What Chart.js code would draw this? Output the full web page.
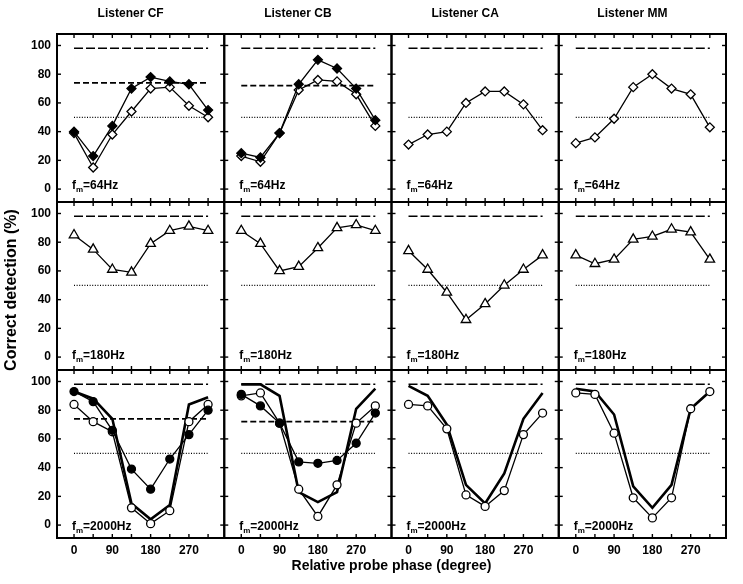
<!DOCTYPE html>
<html lang="en">
<head>
  <meta charset="UTF-8" />
  <title>Correct detection vs relative probe phase</title>
  <script src="https://cdn.jsdelivr.net/npm/chart.js"></script>
  <style>
    body { margin: 0; background: #fff; }
    #wrap { width: 743px; height: 584px; }
  </style>
</head>
<body>
  <div id="wrap"><canvas id="detChart" width="743" height="584"></canvas></div>

  <script>
    // categories / ticks
    const phases = [0, 45, 90, 135, 180, 225, 270, 315];
    const phaseLabels = [0, 90, 180, 270];
    const pctTicks = [0, 20, 40, 60, 80, 100];
    const listeners = ['CF', 'CB', 'CA', 'MM'];
    const modRates = ['64Hz', '180Hz', '2000Hz'];

    // fm = 64 Hz (diamonds)
    const cf64Filled = [40, 23, 44, 70, 78, 75, 73, 55];
    const cf64Open   = [39, 15, 38, 54, 70, 71, 58, 50];
    const cb64Filled = [25, 22, 39, 73, 90, 84, 70, 48];
    const cb64Open   = [23, 19, 39, 69, 76, 75, 66, 44];
    const ca64Open   = [31, 38, 40, 60, 68, 68, 59, 41];
    const mm64Open   = [32, 36, 49, 71, 80, 70, 66, 43];

    // fm = 180 Hz (triangles)
    const cf180 = [85, 75, 61, 59, 79, 88, 91, 88];
    const cb180 = [88, 79, 60, 63, 76, 90, 92, 88];
    const ca180 = [74, 61, 45, 26, 37, 50, 61, 71];
    const mm180 = [71, 65, 68, 82, 84, 89, 87, 68];

    // fm = 2000 Hz (circles + thick line)
    const cf2000Filled = [93, 86, 66, 39, 25, 46, 63, 80];
    const cf2000Open   = [84, 72, 65, 12, 1, 10, 72, 84];
    const cf2000Model  = [93, 88, 74, 15, 4, 14, 84, 89];
    const cb2000Filled = [91, 83, 71, 44, 43, 45, 57, 78];
    const cb2000Open   = [90, 92, 71, 25, 6, 28, 71, 83];
    const cb2000Model  = [98, 98, 90, 23, 16, 23, 81, 95];
    const ca2000Open   = [84, 83, 67, 21, 13, 24, 63, 78];
    const ca2000Model  = [97, 90, 70, 28, 15, 36, 74, 92];
    const mm2000Open   = [92, 91, 64, 19, 5, 19, 81, 93];
    const mm2000Model  = [95, 93, 77, 27, 12, 28, 81, 93];

    // reference levels
    const ceilingLevel = 98;
    const chanceLevel = 50;
    const criterionLevels = [74, 72, null, null];  // per listener
    const criterionRows = [0, 2];

    // [row, col, values, style]
    const panelSeries = [
      [0, 0, cf64Filled, 'diamondFilled'], [0, 0, cf64Open, 'diamondOpen'],
      [0, 1, cb64Filled, 'diamondFilled'], [0, 1, cb64Open, 'diamondOpen'],
      [0, 2, ca64Open, 'diamondOpen'],
      [0, 3, mm64Open, 'diamondOpen'],
      [1, 0, cf180, 'triangle'], [1, 1, cb180, 'triangle'],
      [1, 2, ca180, 'triangle'], [1, 3, mm180, 'triangle'],
      [2, 0, cf2000Filled, 'circleFilled'], [2, 0, cf2000Open, 'circleOpen'], [2, 0, cf2000Model, 'model'],
      [2, 1, cb2000Filled, 'circleFilled'], [2, 1, cb2000Open, 'circleOpen'], [2, 1, cb2000Model, 'model'],
      [2, 2, ca2000Open, 'circleOpen'], [2, 2, ca2000Model, 'model'],
      [2, 3, mm2000Open, 'circleOpen'], [2, 3, mm2000Model, 'model']
    ];

    const styles = {
      diamondFilled: { pointStyle: 'rectRot', pointRadius: 4.5, pointBackgroundColor: '#000', borderWidth: 1.3 },
      diamondOpen:   { pointStyle: 'rectRot', pointRadius: 4.5, pointBackgroundColor: '#fff', borderWidth: 1.3 },
      triangle:      { pointStyle: 'triangle', pointRadius: 5.5, pointBackgroundColor: '#fff', borderWidth: 1.3 },
      circleFilled:  { pointStyle: 'circle', pointRadius: 4, pointBackgroundColor: '#000', borderWidth: 1.3 },
      circleOpen:    { pointStyle: 'circle', pointRadius: 4, pointBackgroundColor: '#fff', borderWidth: 1.3 },
      model:         { pointRadius: 0, borderWidth: 2.6 }
    };

    const datasets = [];
    panelSeries.forEach(([row, col, values, style]) => {
      datasets.push(Object.assign({
        xAxisID: 'x' + col,
        yAxisID: 'y' + row,
        data: phases.map((p, i) => ({ x: p, y: values[i] })),
        borderColor: '#000',
        pointBorderColor: '#000',
        pointBorderWidth: 1.3,
        tension: 0
      }, styles[style]));
    });

    // horizontal reference lines
    function refLine(row, col, level, dash, width) {
      datasets.push({
        xAxisID: 'x' + col,
        yAxisID: 'y' + row,
        data: [{ x: phases[0], y: level }, { x: phases[phases.length - 1], y: level }],
        borderColor: '#000',
        borderWidth: width,
        borderDash: dash,
        pointRadius: 0
      });
    }
    for (let r = 0; r < modRates.length; r++) {
      for (let c = 0; c < listeners.length; c++) {
        refLine(r, c, ceilingLevel, [9, 3], 1.5);
        refLine(r, c, chanceLevel, [1, 1.6], 1.2);
        if (criterionRows.includes(r) && criterionLevels[c] !== null) {
          refLine(r, c, criterionLevels[c], [6, 3], 1.8);
        }
      }
    }

    // scales: x stacked along the bottom, y stacked along the left
    const scales = {};
    listeners.forEach((name, c) => {
      scales['x' + c] = {
        type: 'linear',
        position: 'bottom',
        stack: 'phase',
        min: -40,
        max: 353,
        grid: { display: false, drawTicks: false },
        border: { display: false },
        afterBuildTicks: axis => { axis.ticks = phases.map(v => ({ value: v })); },
        afterFit: axis => { axis.height = 20; },
        ticks: {
          autoSkip: false,
          maxRotation: 0,
          padding: 5,
          font: { size: 12, weight: 'bold' },
          callback: v => phaseLabels.includes(v) ? String(v) : ''
        }
      };
    });
    // left stack is laid out from highest index down, so add bottom row first
    for (let r = modRates.length - 1; r >= 0; r--) {
      scales['y' + r] = {
        type: 'linear',
        position: 'left',
        stack: 'pct',
        min: -9,
        max: 108,
        grid: { display: false, drawTicks: false },
        border: { display: false },
        afterBuildTicks: axis => { axis.ticks = pctTicks.map(v => ({ value: v })); },
        afterFit: axis => { axis.width = 30; },
        ticks: { padding: 6, font: { size: 12, weight: 'bold' } }
      };
    }

    function tick(ctx, x1, y1, x2, y2) {
      ctx.beginPath();
      ctx.moveTo(x1, y1);
      ctx.lineTo(x2, y2);
      ctx.stroke();
    }

    const framePlugin = {
      id: 'panelFrames',
      afterDraw(chart) {
        const ctx = chart.ctx;
        ctx.save();
        ctx.strokeStyle = '#000';
        ctx.fillStyle = '#000';
        listeners.forEach((name, c) => {
          const xs = chart.scales['x' + c];
          modRates.forEach((rate, r) => {
            const ys = chart.scales['y' + r];
            ctx.lineWidth = 1.4;
            phases.forEach(v => {
              const px = xs.getPixelForValue(v);
              tick(ctx, px, ys.top, px, ys.top + 4);
              tick(ctx, px, ys.bottom, px, ys.bottom - 4);
            });
            pctTicks.forEach(v => {
              const py = ys.getPixelForValue(v);
              tick(ctx, xs.left, py, xs.left + 4, py);
              tick(ctx, xs.right, py, xs.right - 4, py);
            });
            ctx.lineWidth = 2;
            ctx.strokeRect(xs.left, ys.top, xs.right - xs.left, ys.bottom - ys.top);

            // f_m label
            const base = ys.bottom - [13, 11, 8][r];
            let tx = xs.left + 15;
            ctx.textAlign = 'left';
            ctx.textBaseline = 'alphabetic';
            ctx.font = 'bold 12px "Liberation Sans", Arial, sans-serif';
            ctx.fillText('f', tx, base);
            tx += ctx.measureText('f').width;
            ctx.font = 'bold 8px "Liberation Sans", Arial, sans-serif';
            ctx.fillText('m', tx, base + 3);
            tx += ctx.measureText('m').width;
            ctx.font = 'bold 12px "Liberation Sans", Arial, sans-serif';
            ctx.fillText('=' + rate, tx, base);
          });
          // column title
          ctx.font = 'bold 12px "Liberation Sans", Arial, sans-serif';
          ctx.textAlign = 'center';
          ctx.textBaseline = 'middle';
          ctx.fillText('Listener ' + name, (xs.left + xs.right) / 2 - 10, 14);
        });

        const area = chart.chartArea;
        ctx.font = 'bold 14px "Liberation Sans", Arial, sans-serif';
        ctx.textAlign = 'center';
        ctx.textBaseline = 'middle';
        ctx.fillText('Relative probe phase (degree)', (area.left + area.right) / 2, 566);
        ctx.translate(12, (area.top + area.bottom) / 2 + 4);
        ctx.rotate(-Math.PI / 2);
        ctx.font = 'bold 16px "Liberation Sans", Arial, sans-serif';
        ctx.fillText('Correct detection (%)', 0, 0);
        ctx.restore();
      }
    };

    Chart.defaults.font.family = '"Liberation Sans", Arial, sans-serif';
    Chart.defaults.color = '#000';

    const ctx = document.getElementById('detChart').getContext('2d');
    new Chart(ctx, {
      type: 'line',
      data: { datasets: datasets },
      options: {
        responsive: false,
        animation: false,
        layout: { padding: { left: 27, right: 17, top: 34, bottom: 26 } },
        plugins: {
          legend: { display: false },
          tooltip: { enabled: false }
        },
        scales: scales
      },
      plugins: [framePlugin]
    });
  </script>
</body>
</html>
